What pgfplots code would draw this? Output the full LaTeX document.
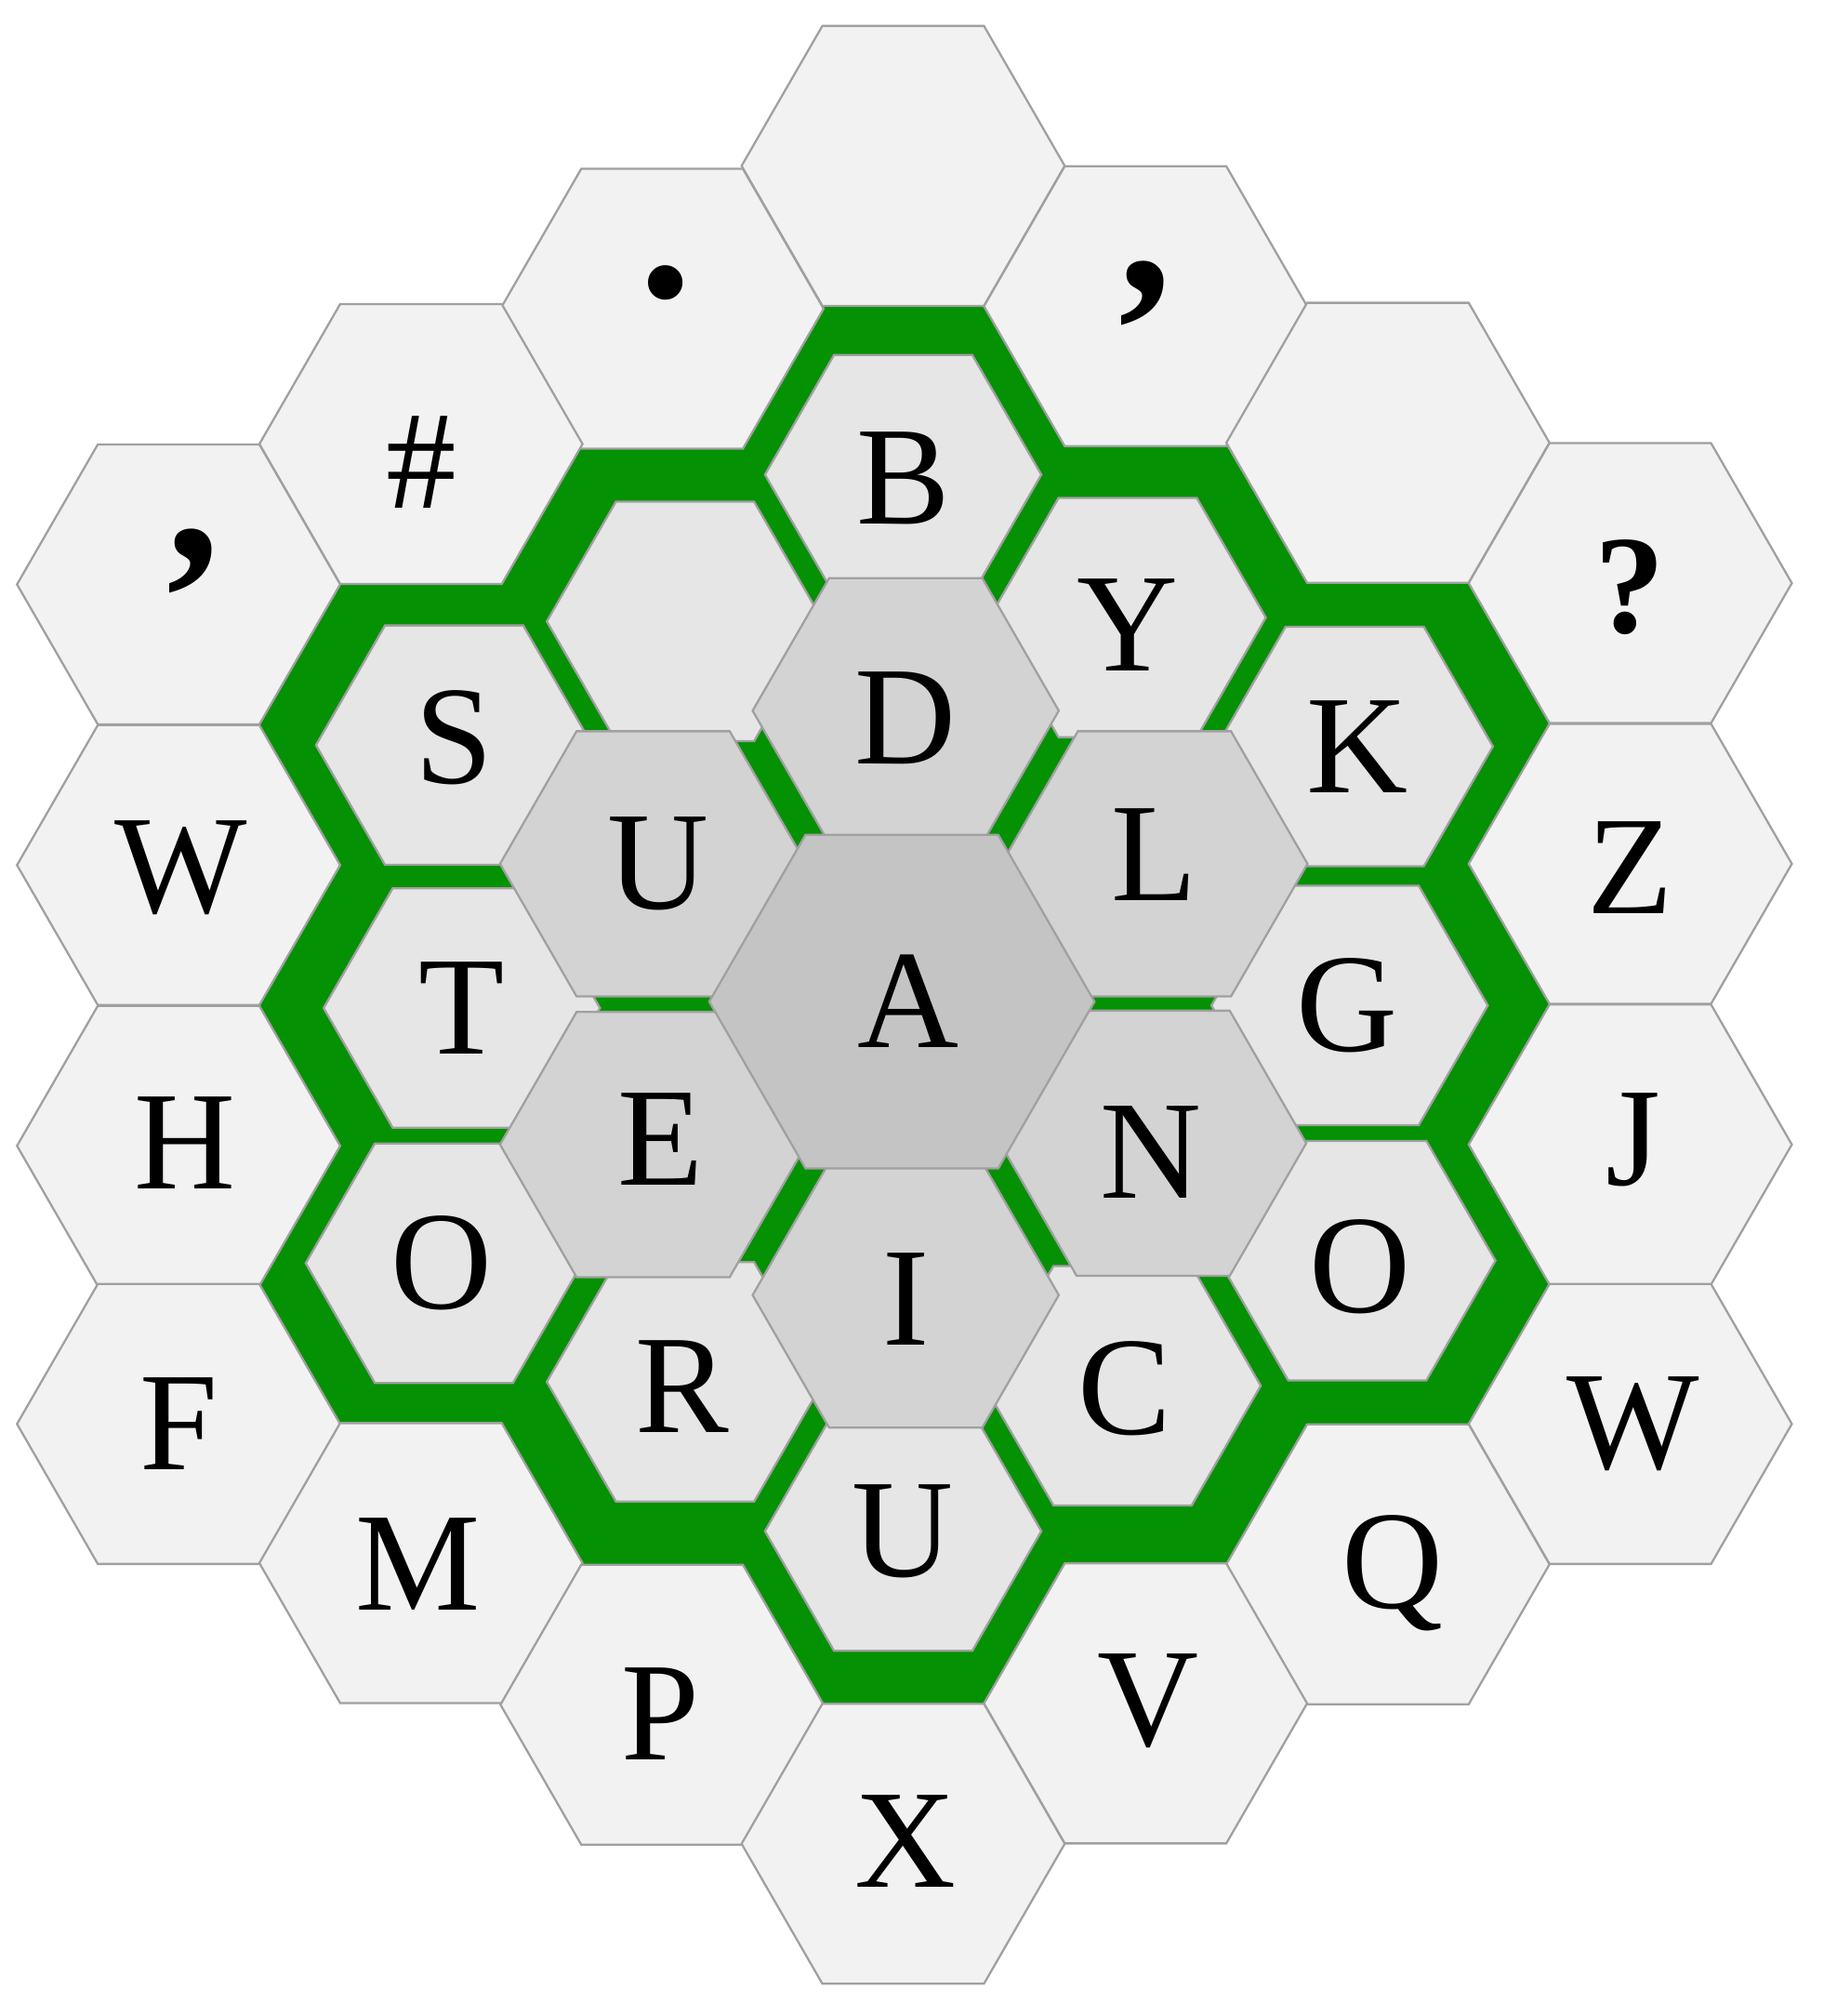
\documentclass[border=0pt]{standalone}
\usepackage{pgfplots}
\pgfplotsset{compat=1.18}
\usepackage{fontspec}
\setmainfont{Liberation Serif}
\definecolor{grn}{RGB}{4,145,4}
\definecolor{c1}{RGB}{242,242,242}
\definecolor{c2}{RGB}{230,230,230}
\definecolor{c3}{RGB}{211,211,211}
\definecolor{c4}{RGB}{196,196,196}
\definecolor{edge}{RGB}{160,160,160}
\pgfdeclareplotmark{hex}{%
  \pgfpathmoveto{\pgfpointpolar{0}{\pgfplotmarksize}}%
  \pgfpathlineto{\pgfpointpolar{60}{\pgfplotmarksize}}%
  \pgfpathlineto{\pgfpointpolar{120}{\pgfplotmarksize}}%
  \pgfpathlineto{\pgfpointpolar{180}{\pgfplotmarksize}}%
  \pgfpathlineto{\pgfpointpolar{240}{\pgfplotmarksize}}%
  \pgfpathlineto{\pgfpointpolar{300}{\pgfplotmarksize}}%
  \pgfpathclose\pgfusepathqfillstroke}
\begin{document}
\begin{tikzpicture}
\begin{axis}[x=0.3pt,y=0.3pt,y dir=reverse,xmin=0,xmax=1440,ymin=0,ymax=1580,
  hide axis,clip=false,scale only axis]
\addplot[draw=none,mark=none] coordinates {(0,0)(1440,1580)};
% green band
\addplot[fill=grn,draw=none] coordinates {(645,240)(772,240)(835,350)(962,350)(1025,457)(1152,457)(1215,567)(1152,677)(1215,787)(1152,897)(1215,1007)(1152,1116)(1025,1116)(962,1226)(835,1226)(772,1335)(645,1335)(582,1226)(456,1226)(393,1116)(266,1116)(203,1007)(266,897)(203,787)(266,677)(203,567)(266,457)(393,457)(456,350)(582,350)} --cycle;
% outer ring
\addplot[only marks,mark=hex,mark size=38pt,mark options={fill=c1,draw=edge,line width=0.5pt}] coordinates {
(708,130)(519,242)(898,240)(330,348)(1088,347)(140,458)(1278,457)(140,678)(1278,677)(140,898)(1278,897)(140,1116)(1278,1116)(330,1225)(1088,1226)(519,1336)(898,1335)(708,1445)};
% middle ring
\addplot[only marks,mark=hex,mark size=32.5pt,mark options={fill=c2,draw=edge,line width=0.5pt}] coordinates {
(708,372)(537,487)(884,484)(1062,585)(356,584)(362,790)(348,990)(1058,788)(1064,988)(537,1083)(880,1086)(708,1200)};
% inner ring
\addplot[only marks,mark=hex,mark size=36pt,mark options={fill=c3,draw=edge,line width=0.5pt}] coordinates {
(710,557)(905,677)(512,677)(512,897)(904,896)(710,1015)};
\addplot[only marks,mark=hex,mark size=45.3pt,mark options={fill=c4,draw=edge,line width=0.5pt}] coordinates {(707,785)};
% letters
\addplot[draw=none,mark=none,point meta=explicit symbolic,nodes near coords,
  nodes near coords align=center,
  every node near coord/.append style={font=\fontsize{33}{33}\selectfont,inner sep=0pt,anchor=center,text=black}]
 table[meta=t] {
x y t
708 375 B
884 490 Y
1064 585 K
356 578 S
710 563 D
516 677 U
905 670 L
712 785 A
362 790 T
1056 788 G
518 893 E
902 903 N
346 990 O
1066 993 O
710 1018 I
535 1087 R
882 1088 C
708 1200 U
142 680 W
1278 680 Z
145 896 H
1280 893 J
140 1116 F
1280 1116 W
328 1226 M
1092 1233 Q
518 1343 P
900 1333 V
710 1443 X
330 362 {\#}
1278 460 {\bfseries ?}
};
\addplot[draw=none,mark=none,point meta=explicit symbolic,nodes near coords,
  every node near coord/.append style={font=\fontsize{50}{50}\selectfont\bfseries,inner sep=0pt,anchor=center,text=black}]
 table[meta=t] {
x y t
522 222 .
898 230 ,
152 440 ,
};
% icons
\addplot[black,line width=2.2pt,line cap=round,line join=round] coordinates {(778,100)(778,147)(640,147)};
\addplot[black,line width=2.2pt,line cap=round,line join=round] coordinates {(680,102)(640,147)(680,183)};
\addplot[black,line width=1.6pt,line join=round] coordinates {(1005,350)(1050,298)(1155,298)(1155,403)(1050,403)} --cycle;
\addplot[black,line width=1.4pt,line cap=round] coordinates {(1077,332)(1113,368)};
\addplot[black,line width=1.4pt,line cap=round] coordinates {(1113,332)(1077,368)};
\addplot[fill=black,draw=none] coordinates {(488,487)(540,432)(592,487)(563,487)(563,537)(515,537)(515,487)} --cycle;
\end{axis}
\end{tikzpicture}
\end{document}
